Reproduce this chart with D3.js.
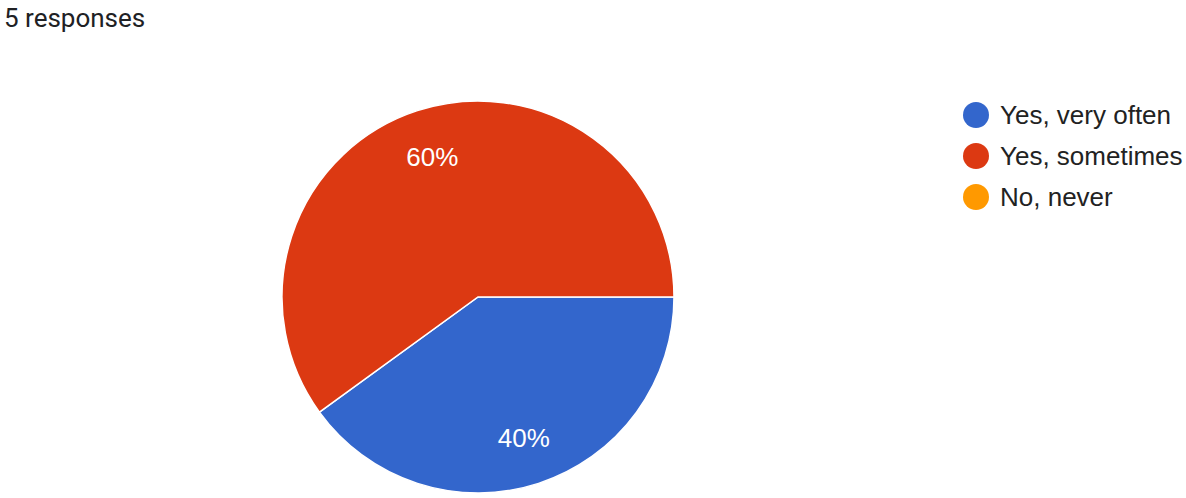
<!DOCTYPE html>
<html><head><meta charset="utf-8">
<script src="https://cdn.jsdelivr.net/npm/d3@7"></script>
<style>body{margin:0;background:#fff;font-family:Roboto,Arial,sans-serif}</style>
</head><body>
<svg id="c" width="1186" height="498"></svg>
<script>
const categories = ["Yes, very often", "Yes, sometimes", "No, never"];
const values = [2, 3, 0];
const colors = ["#3366cc", "#dc3912", "#ff9900"];
const title = "5 responses";

const svg = d3.select("#c");
svg.append("text").attr("x", 4).attr("y", 27).attr("font-size", 26)
  .attr("font-family", "Roboto, sans-serif").attr("fill", "#202124").text(title);

const cx = 478, cy = 297, R = 196;
const total = d3.sum(values);
const pie = d3.pie().sort(null).value(d => d.v)
  .startAngle(Math.PI / 2).endAngle(Math.PI / 2 + 2 * Math.PI);
const data = pie(categories.map((c, i) => ({c, v: values[i], col: colors[i]})));
const arc = d3.arc().innerRadius(0).outerRadius(R);
const labelArc = d3.arc().innerRadius(R * 0.755).outerRadius(R * 0.755);
const g = svg.append("g").attr("transform", `translate(${cx},${cy})`);
g.selectAll("path").data(data.filter(d => d.data.v > 0)).join("path")
  .attr("d", arc).attr("fill", d => d.data.col).attr("stroke", "#fff").attr("stroke-width", 1.5);
g.selectAll("text").data(data.filter(d => d.data.v > 0)).join("text")
  .attr("transform", d => `translate(${labelArc.centroid(d)})`)
  .attr("text-anchor", "middle").attr("dy", "0.36em")
  .attr("font-family", "Arial, 'Liberation Sans', sans-serif")
  .attr("fill", "#fff").attr("font-size", 26)
  .text(d => Math.round(d.data.v / total * 100) + "%");

const lg = svg.append("g");
const ly = d3.scalePoint().domain(categories).range([115, 197]);
categories.forEach((c, i) => {
  lg.append("circle").attr("cx", 976).attr("cy", ly(c)).attr("r", 13).attr("fill", colors[i]);
  lg.append("text").attr("x", 1000).attr("y", ly(c)).attr("dy", "0.36em")
    .attr("font-family", "Arial, 'Liberation Sans', sans-serif")
    .attr("font-size", 26).attr("fill", "#222").text(c);
});
</script>
</body></html>
